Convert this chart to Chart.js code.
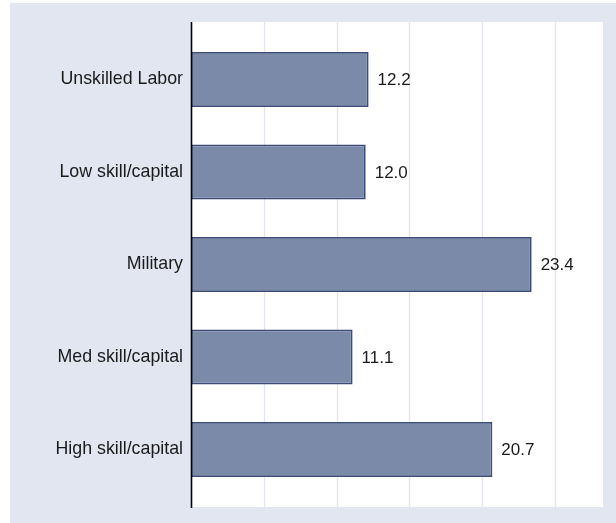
<!DOCTYPE html>
<html>
<head>
<meta charset="utf-8">
<script src="https://cdn.jsdelivr.net/npm/chart.js@4.4.1/dist/chart.umd.min.js"></script>
<style>
  html, body { margin: 0; padding: 0; background: #ffffff; }
  #wrap { position: relative; width: 616px; height: 523px; }
</style>
</head>
<body>
<div id="wrap"><canvas id="c" width="616" height="523"></canvas></div>
<script>
const categories = ["Unskilled Labor", "Low skill/capital", "Military", "Med skill/capital", "High skill/capital"];
const values = [12.2, 12.0, 23.4, 11.1, 20.7];
const valueLabels = ["12.2", "12.0", "23.4", "11.1", "20.7"];
const gridValues = [5, 10, 15, 20, 25];
const xMax = 28.3;

const FONT = "'Liberation Sans', Arial, Helvetica, sans-serif";

const decor = {
  id: 'decor',
  beforeDraw(chart) {
    const ctx = chart.ctx;
    const a = chart.chartArea;
    const xs = chart.scales.x;
    const ext = 11.25;
    ctx.save();
    ctx.fillStyle = '#ffffff';
    ctx.fillRect(0, 0, chart.width, chart.height);
    ctx.fillStyle = '#e1e6f0';
    ctx.fillRect(10, 3, chart.width - 10, chart.height - 3);
    ctx.fillStyle = '#ffffff';
    ctx.fillRect(a.left, a.top - ext, a.right - a.left, a.bottom - a.top + 2 * ext);
    ctx.strokeStyle = '#e0e5ef';
    ctx.lineWidth = 1.3;
    gridValues.forEach(v => {
      const x = Math.round(xs.getPixelForValue(v)) + 0.5;
      ctx.beginPath();
      ctx.moveTo(x, a.top - ext);
      ctx.lineTo(x, a.bottom + ext);
      ctx.stroke();
    });
    ctx.restore();
  },
  afterDatasetsDraw(chart) {
    const ctx = chart.ctx;
    const a = chart.chartArea;
    const ext = 11.25;
    ctx.save();
    ctx.strokeStyle = '#000000';
    ctx.lineWidth = 1.6;
    ctx.beginPath();
    ctx.moveTo(a.left + 0.5, a.top - ext);
    ctx.lineTo(a.left + 0.5, a.bottom + ext + 1);
    ctx.stroke();
    ctx.fillStyle = '#1a1a1a';
    ctx.font = '17px ' + FONT;
    ctx.textAlign = 'left';
    ctx.textBaseline = 'middle';
    const meta = chart.getDatasetMeta(0);
    meta.data.forEach((bar, i) => {
      ctx.fillText(valueLabels[i], bar.x + 9, bar.y + 1);
    });
    ctx.restore();
  }
};

new Chart(document.getElementById('c'), {
  type: 'bar',
  data: {
    labels: categories,
    datasets: [{
      data: values,
      backgroundColor: '#7b8aa8',
      borderColor: '#3a4b78',
      borderWidth: 1.8,
      borderSkipped: false,
      categoryPercentage: 1.0,
      barPercentage: 0.595
    }]
  },
  options: {
    indexAxis: 'y',
    responsive: false,
    animation: false,
    devicePixelRatio: 1,
    layout: { padding: { left: 0, top: 33.25, bottom: 27.25, right: 13 } },
    plugins: { legend: { display: false }, tooltip: { enabled: false } },
    scales: {
      x: {
        display: false,
        min: 0,
        max: xMax,
        grid: { display: false }
      },
      y: {
        grid: { display: false, drawTicks: false },
        border: { display: false },
        ticks: {
          color: '#1a1a1a',
          font: { family: FONT, size: 17.8 },
          padding: 8
        },
        afterFit(scale) { scale.width = 191; }
      }
    }
  },
  plugins: [decor]
});
</script>
</body>
</html>
